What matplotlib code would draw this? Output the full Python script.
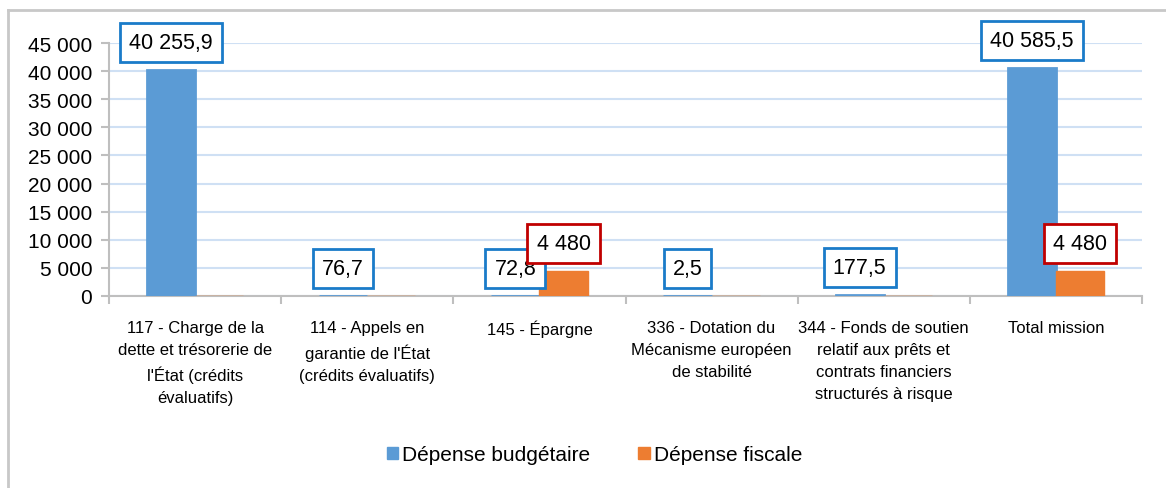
import numpy as np
import matplotlib
matplotlib.use("Agg")
from matplotlib import pyplot as plt
from matplotlib.lines import Line2D
from matplotlib.patches import Patch

categories = [
    "117 - Charge de la\ndette et trésorerie de\nl'État (crédits\névaluatifs)",
    "114 - Appels en\ngarantie de l'État\n(crédits évaluatifs)",
    "145 - Épargne",
    "336 - Dotation du\nMécanisme européen\nde stabilité",
    "344 - Fonds de soutien\nrelatif aux prêts et\ncontrats financiers\nstructurés à risque",
    "Total mission",
]
depense_budgetaire = [40255.9, 76.7, 72.8, 2.5, 177.5, 40585.5]
depense_fiscale = [0, 0, 4480, 0, 0, 4480]
yticks = [0, 5000, 10000, 15000, 20000, 25000, 30000, 35000, 40000, 45000]

BLUE = "#5b9bd5"
ORANGE = "#ed7d31"

plt.rcParams["font.family"] = ["Liberation Sans", "DejaVu Sans"]


def fr(v):
    # french style: space for thousands, comma for decimals
    if float(v).is_integer():
        s = f"{int(v):,}"
    else:
        s = f"{v:,.1f}"
    return s.replace(",", " ").replace(".", ",")


fig = plt.figure(figsize=(11.66, 4.89), dpi=100)
ax = fig.add_axes([109 / 1166, 1 - 297 / 489, (1142 - 109) / 1166, (297 - 44) / 489])

x = np.arange(len(categories))
w = 0.28
b1 = ax.bar(x - w / 2, depense_budgetaire, w, color=BLUE, edgecolor=BLUE, lw=2, zorder=3)
b2 = ax.bar(x + w / 2, depense_fiscale, w, color=ORANGE, edgecolor=ORANGE, lw=1, zorder=3)

for rect, v in zip(b1, depense_budgetaire):
    ax.annotate(fr(v), (rect.get_x() + rect.get_width() / 2, v), xytext=(0, 12),
                textcoords="offset points", ha="center", va="bottom", fontsize=15.5,
                bbox=dict(boxstyle="square,pad=0.42", fc="white", ec="#1a7bc9", lw=2), zorder=5)
for rect, v in zip(b2, depense_fiscale):
    if v == 0:
        continue
    ax.annotate(fr(v), (rect.get_x() + rect.get_width() / 2, v), xytext=(0, 12),
                textcoords="offset points", ha="center", va="bottom", fontsize=15.5,
                bbox=dict(boxstyle="square,pad=0.42", fc="white", ec="#c00000", lw=2), zorder=6)

ax.set_xlim(-0.5, len(categories) - 0.5)
ax.set_ylim(0, 45000)
ax.set_yticks(yticks)
ax.set_yticklabels([fr(t) for t in yticks], fontsize=15)
ax.set_xticks(x)
ax.set_xticklabels(categories, fontsize=12, linespacing=1.6, va="top")
ax.set_xticks(np.arange(len(categories) + 1) - 0.5, minor=True)
ax.tick_params(axis="x", which="major", length=0, pad=17)
ax.tick_params(axis="x", which="minor", length=6, color="#bfbfbf", width=1.5)
ax.tick_params(axis="y", length=6, color="#bfbfbf", width=1.5, pad=6)

ax.grid(axis="y", color="#cfe0f4", lw=1.5, zorder=0)
for s in ["top", "right"]:
    ax.spines[s].set_visible(False)
for s in ["left", "bottom"]:
    ax.spines[s].set_color("#bfbfbf")
    ax.spines[s].set_linewidth(1.5)
    ax.spines[s].set_zorder(2)

handles = [Patch(color=BLUE, label="Dépense budgétaire"), Patch(color=ORANGE, label="Dépense fiscale")]
fig.legend(handles=handles, loc="center", bbox_to_anchor=(0.51, 1 - 456 / 489), ncol=2,
           frameon=False, fontsize=15, handlelength=0.55, handleheight=0.55,
           handletextpad=0.2, columnspacing=2.3)

# outer frame of the chart (top and left sides visible)
fig.add_artist(Line2D([8 / 1166, 1], [1 - 11 / 489] * 2, transform=fig.transFigure, color="#c8c8c8", lw=2))
fig.add_artist(Line2D([8 / 1166] * 2, [0, 1 - 11 / 489], transform=fig.transFigure, color="#c8c8c8", lw=2))

fig.savefig("out.png", dpi=100)
